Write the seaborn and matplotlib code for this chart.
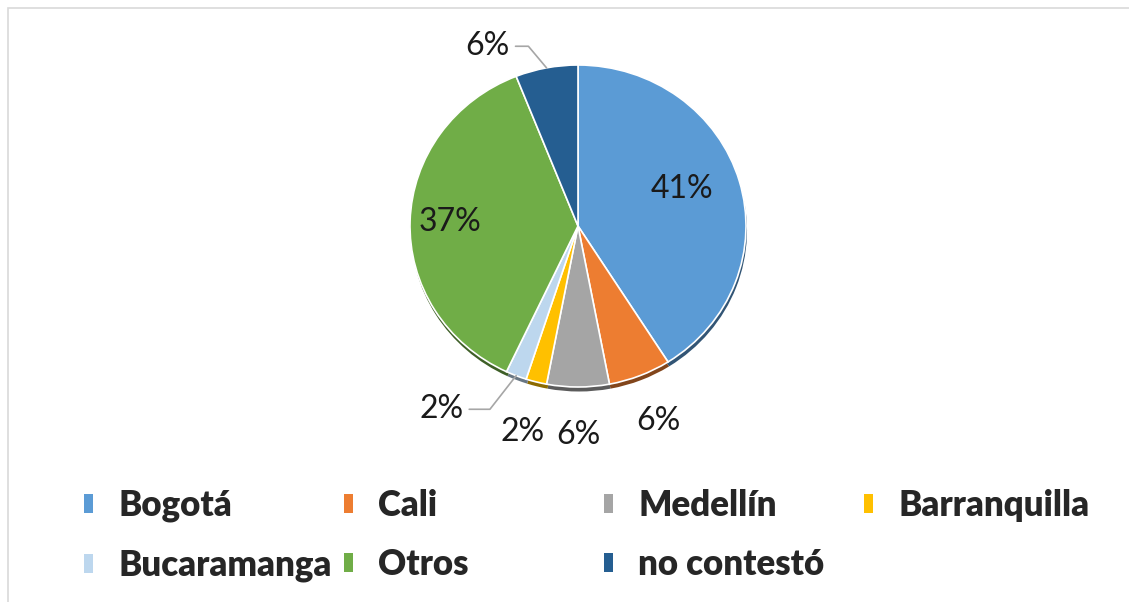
import numpy as np
import seaborn as sns
import matplotlib.pyplot as plt
from matplotlib.patches import Rectangle

ciudades = ['Bogotá', 'Cali', 'Medellín', 'Barranquilla', 'Bucaramanga', 'Otros', 'no contestó']
porcentajes = [41, 6, 6, 2, 2, 37, 6]
colores = ['#5B9BD5', '#ED7D31', '#A5A5A5', '#FFC000', '#BDD7EE', '#70AD47', '#255E91']

sns.set_theme(style='white')
plt.rcParams['font.family'] = ['Lato', 'DejaVu Sans']

W, H = 1129, 602
fig = plt.figure(figsize=(W / 100, H / 100), dpi=100)

# outer light frame like the office chart area
fig.patches.append(Rectangle((8 / W, -0.1), 1.2, (H - 8) / H + 0.1, transform=fig.transFigure,
                             fill=False, edgecolor='#D9D9D9', linewidth=1.2))

# pie axes, slightly flattened ellipse
cx, cy, rx, ry, k = 578, H - 226, 168, 161, 1.5
ax = fig.add_axes([(cx - k * rx) / W, (cy - k * ry) / H, 2 * k * rx / W, 2 * k * ry / H])

# thin darker rim underneath (fake 3d edge)
oscuros = [tuple(c * 0.55 for c in sns.color_palette([col])[0]) for col in colores]
ax.pie(porcentajes, colors=oscuros, startangle=90, counterclock=False, center=(0.006, -0.028),
       wedgeprops=dict(linewidth=0))
wedges, _ = ax.pie(porcentajes, colors=colores, startangle=90, counterclock=False,
                   wedgeprops=dict(edgecolor='white', linewidth=1.2))
ax.set_aspect('auto')
ax.set_xlim(-k, k)
ax.set_ylim(-k, k)
ax.axis('off')

# label radius per slice and leader-line settings
lab_r = [0.66, 1.30, 1.30, 1.32, 1.40, 0.76, 1.24]
lab_da = [4, 0, 0, 0, -14, 0, 15]
leader_ang = [None, None, None, None, 52, None, 130]

for w, p, r, da, la in zip(wedges, porcentajes, lab_r, lab_da, leader_ang):
    mid = np.deg2rad((w.theta1 + w.theta2) / 2)
    tx, ty = r * np.cos(mid + np.deg2rad(da)), r * np.sin(mid + np.deg2rad(da))
    if la is not None:
        ex, ey = np.cos(mid), np.sin(mid)
        ax.annotate(f'{p}%', xy=(ex, ey), xytext=(tx, ty), ha='center', va='center',
                    fontsize=23, color='#1a1a1a',
                    arrowprops=dict(arrowstyle='-', color='#A6A6A6', lw=1.2, shrinkA=2, shrinkB=0,
                                    connectionstyle=f'angle,angleA=0,angleB={la},rad=0'))
    else:
        ax.text(tx, ty, f'{p}%', ha='center', va='center', fontsize=23, color='#1a1a1a')

# legend laid out on a fixed grid (row-wise order)
col_x = [84, 344, 604, 864]
for i, x in enumerate(col_x):
    idx = [j for j in (i, i + 4) if j < len(ciudades)]
    leg = fig.legend([wedges[j] for j in idx], [ciudades[j] for j in idx],
                     loc='upper left', bbox_to_anchor=(x / W, 1 - 489 / H),
                     frameon=False, fontsize=25, handlelength=0.26, handleheight=0.45,
                     handletextpad=0.72, labelspacing=0.75, borderpad=0, borderaxespad=0)
    for t in leg.get_texts():
        t.set_fontweight('heavy')
    for h in leg.legend_handles:
        h.set_edgecolor('none')

fig.savefig('out.png', dpi=100)
